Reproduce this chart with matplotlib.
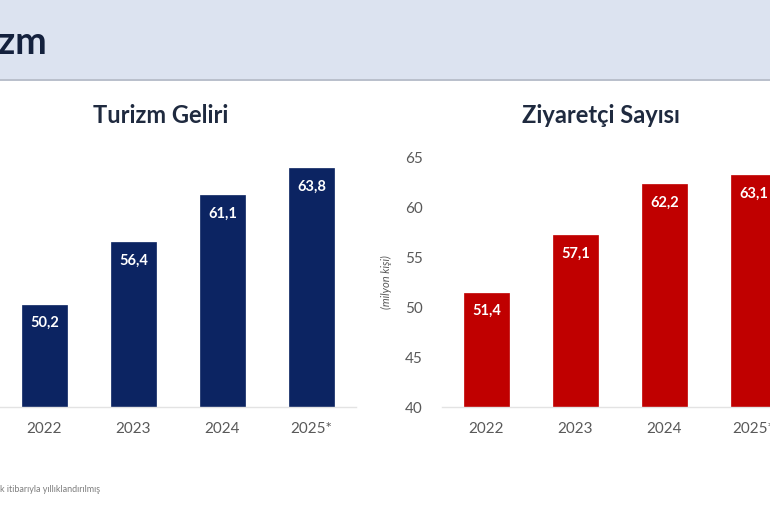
import matplotlib
matplotlib.use("Agg")
import matplotlib.pyplot as plt
from matplotlib.patches import Rectangle

years = ["2022", "2023", "2024", "2025*"]
gelir = [50.2, 56.4, 61.1, 63.8]
ziyaretci = [51.4, 57.1, 62.2, 63.1]
yticks = [40, 45, 50, 55, 60, 65]

plt.rcParams['font.family'] = ['Lato', 'DejaVu Sans']

W, H = 770, 510
fig = plt.figure(figsize=(W / 100, H / 100), dpi=100)
fig.patch.set_facecolor("white")

# header band
fig.add_artist(Rectangle((0, 1 - 80 / H), 1, 80 / H, transform=fig.transFigure,
                         facecolor="#DCE3F0", edgecolor="none", zorder=0))
fig.add_artist(Rectangle((0, 1 - 82 / H), 1, 2.5 / H, transform=fig.transFigure,
                         facecolor="#BAC0CC", edgecolor="none", zorder=1))
fig.text(-2 / W, 1 - 43 / H, "zm", fontsize=27, fontweight="bold", color="#14213D",
         ha="left", va="center")

NAVY = "#0C2462"
RED = "#C00000"
TXT = "#595959"


def make_ax(left_px, values, color, title, title_x, show_y):
    ax = fig.add_axes([left_px / W, 102 / H, 356 / W, 251 / H])
    ax.bar(range(len(years)), values, width=0.5, color=color, bottom=0,
           edgecolor=color, linewidth=0.5, zorder=2)
    ax.set_xlim(-0.5, 3.5)
    ax.set_ylim(40, 65)
    ax.set_xticks(range(len(years)))
    ax.set_xticklabels(years, fontsize=11, color=TXT)
    ax.set_yticks(yticks)
    if show_y:
        ax.set_yticklabels([str(t) for t in yticks], fontsize=11, color=TXT)
    else:
        ax.set_yticklabels([])
    ax.tick_params(axis="x", length=0, pad=10)
    ax.tick_params(axis="y", length=0, pad=14)
    for s in ["top", "right", "left"]:
        ax.spines[s].set_visible(False)
    ax.spines["bottom"].set_color("#E3E3E3")
    ax.spines["bottom"].set_linewidth(1.0)
    ax.set_facecolor("none")
    for i, v in enumerate(values):
        ax.annotate(f"{v:.1f}".replace(".", ","), (i, v), xytext=(0, -12.5),
                    textcoords="offset points", ha="center", va="center",
                    fontsize=10.5, fontweight="bold", color="white", zorder=3)
    fig.text(title_x / W, 1 - 116 / H, title, fontsize=17, fontweight="bold",
             color="#1F2A3F", ha="center", va="center")
    if show_y:
        ax.set_ylabel("(milyon kişi)", fontsize=8, style="italic", color=TXT,
                      labelpad=9)
    return ax


make_ax(0, gelir, NAVY, "Turizm Geliri", 161, False)
make_ax(442, ziyaretci, RED, "Ziyaretçi Sayısı", 601, True)

fig.text(0, 1 - 490 / H, "k itibarıyla yıllıklandırılmış", fontsize=6.5, color="#7F7F7F",
         ha="left", va="center")

fig.savefig("out.png", dpi=100)
